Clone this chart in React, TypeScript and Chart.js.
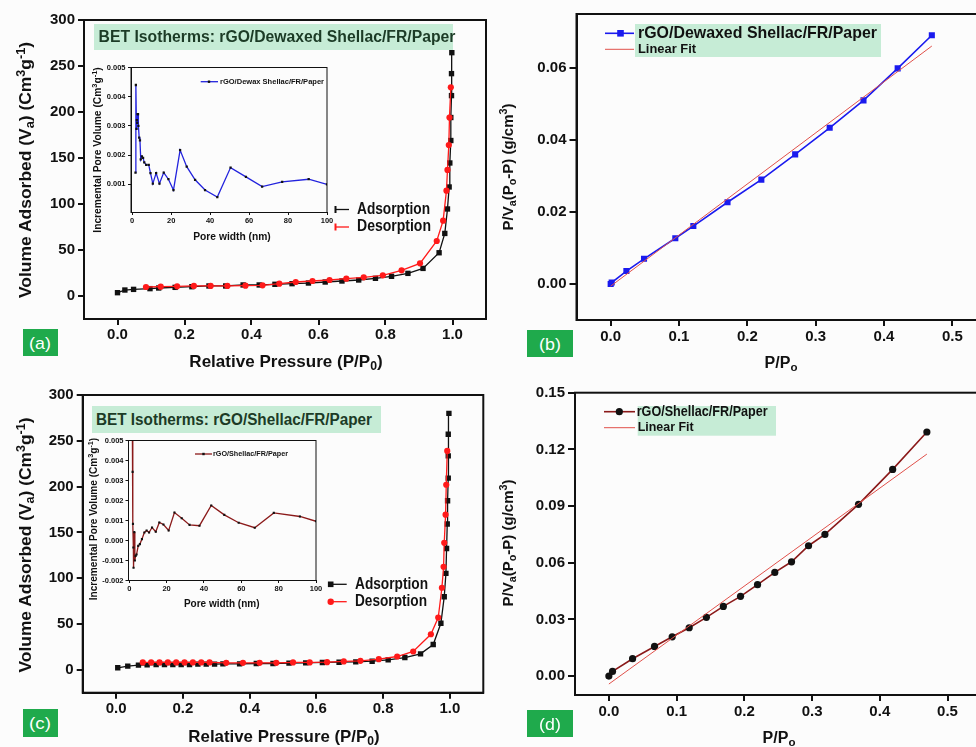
import React, { useEffect, useLayoutEffect, useRef } from 'react';
import { Chart, registerables } from 'chart.js';
Chart.register(...registerables);

const FONT = '"Liberation Sans", Arial, Helvetica, sans-serif';

// ---------- (a) rGO/Dewaxed Shellac/FR/Paper isotherm ----------
const aAdsX = [0.0, 0.022, 0.048, 0.097, 0.123, 0.172, 0.222, 0.273, 0.323, 0.375, 0.423, 0.47, 0.521, 0.57, 0.62, 0.67, 0.72, 0.77, 0.818, 0.867, 0.912, 0.96, 0.977, 0.985, 0.99, 0.992, 0.995, 0.995, 0.997, 0.997, 0.998];
const aAdsY = [3.6, 6.5, 7.2, 8.0, 8.7, 9.4, 10.1, 10.9, 10.9, 12.0, 12.0, 12.7, 13.4, 14.1, 15.2, 16.3, 17.4, 19.2, 21.4, 24.6, 30.0, 47.0, 68.0, 94.6, 118.5, 144.6, 169.0, 194.0, 217.8, 241.7, 264.5];
const aDesX = [0.085, 0.129, 0.178, 0.228, 0.278, 0.328, 0.382, 0.433, 0.483, 0.532, 0.582, 0.633, 0.683, 0.735, 0.792, 0.848, 0.903, 0.953, 0.972, 0.982, 0.985, 0.989, 0.991, 0.995];
const aDesY = [9.8, 10.1, 10.5, 10.9, 10.9, 10.9, 11.2, 11.6, 13.4, 15.2, 16.3, 17.4, 18.8, 20.3, 22.5, 27.9, 35.5, 59.8, 81.9, 114.5, 137.0, 164.0, 194.0, 226.8];

// inset (a): pore size distribution
const aPoreX = [1.7, 1.9, 2.2, 2.4, 2.6, 2.8, 3.0, 3.2, 3.6, 4.0, 4.4, 5.0, 5.6, 6.2, 7.2, 8.5, 9.4, 10.6, 12.3, 14.0, 16.2, 18.6, 21.2, 24.6, 28.0, 32.3, 37.4, 43.7, 50.5, 58.4, 66.7, 77.0, 90.6, 100];
const aPoreY = [0.0014, 0.0044, 0.0029, 0.0032, 0.0031, 0.0034, 0.0034, 0.003, 0.0026, 0.0025, 0.00185, 0.00195, 0.0019, 0.00175, 0.00166, 0.00166, 0.00138, 0.00102, 0.00138, 0.00102, 0.0014, 0.00117, 0.0008, 0.00217, 0.0016, 0.00115, 0.0008, 0.00056, 0.00157, 0.00125, 0.00092, 0.00108, 0.00117, 0.00099];

// ---------- (b) BET plot rGO/Dewaxed Shellac ----------
const bX = [0, 0.0015, 0.023, 0.0488, 0.0946, 0.121, 0.171, 0.2205, 0.27, 0.3205, 0.37, 0.42, 0.47];
const bY = [0, 0.0004, 0.0036, 0.007, 0.0127, 0.0161, 0.0227, 0.029, 0.036, 0.0434, 0.051, 0.0599, 0.0691];
const bFitX = [0, 0.47];
const bFitY = [-0.0006, 0.0661];

// ---------- (c) rGO/Shellac/FR/Paper isotherm ----------
const cAdsX = [0.005, 0.035, 0.067, 0.093, 0.12, 0.145, 0.17, 0.195, 0.22, 0.245, 0.27, 0.295, 0.32, 0.37, 0.42, 0.47, 0.518, 0.568, 0.618, 0.668, 0.718, 0.767, 0.815, 0.865, 0.912, 0.95, 0.973, 0.983, 0.988, 0.99, 0.992, 0.993, 0.995, 0.995, 0.995, 0.997];
const cAdsY = [2.2, 4.0, 5.1, 5.4, 5.8, 5.8, 5.8, 5.8, 5.8, 6.2, 6.2, 6.2, 6.5, 6.5, 6.9, 6.9, 7.3, 7.6, 8.0, 8.3, 8.7, 9.4, 10.9, 13.4, 17.4, 27.6, 50.8, 79.8, 105.2, 132.4, 159.2, 184.6, 209.3, 233.6, 257.2, 280.0];
const cDesX = [0.08, 0.105, 0.13, 0.155, 0.18, 0.205, 0.23, 0.255, 0.28, 0.33, 0.38, 0.43, 0.48, 0.53, 0.58, 0.632, 0.682, 0.732, 0.787, 0.842, 0.89, 0.943, 0.965, 0.976, 0.981, 0.983, 0.987, 0.989, 0.992];
const cDesY = [8.0, 8.0, 8.0, 8.0, 8.0, 8.0, 8.0, 8.0, 8.0, 7.6, 7.6, 7.6, 7.6, 8.0, 8.0, 8.3, 9.1, 9.8, 11.6, 14.5, 20.0, 38.8, 57.0, 89.6, 112.4, 138.6, 169.4, 202.0, 239.0];

// inset (c): pore size distribution
const cPoreX = [1.5, 1.8, 2.0, 2.2, 2.3, 2.7, 3.0, 3.4, 3.9, 4.8, 5.7, 6.8, 8.1, 9.3, 10.6, 12.2, 14.2, 16.1, 18.3, 21.1, 24.2, 28.1, 32.3, 37.6, 43.9, 50.9, 58.6, 67.2, 77.4, 91.4, 100];
const cPoreY = [0.009, 0.00343, 0.00083, -0.00035, -0.00136, 0.00042, -0.001, -0.00077, -0.0007, -0.00027, -0.00018, 0.00007, 0.0004, 0.0005, 0.0004, 0.00065, 0.00044, 0.0009, 0.0008, 0.0005, 0.0014, 0.00111, 0.00078, 0.00074, 0.00175, 0.00128, 0.00089, 0.00064, 0.00138, 0.0012, 0.00096];

// ---------- (d) BET plot rGO/Shellac ----------
const dX = [0, 0.0054, 0.035, 0.0674, 0.0935, 0.1186, 0.144, 0.169, 0.1944, 0.2195, 0.245, 0.2697, 0.2948, 0.319, 0.3686, 0.419, 0.4695];
const dY = [0, 0.0025, 0.0092, 0.0157, 0.0208, 0.0256, 0.0311, 0.0369, 0.0422, 0.0484, 0.0549, 0.0605, 0.069, 0.075, 0.0909, 0.1094, 0.1292];
const dFitX = [0, 0.4695];
const dFitY = [-0.0042, 0.1175];

// tick values
const isoXTicks = [0, 0.2, 0.4, 0.6, 0.8, 1.0];
const isoYTicks = [0, 50, 100, 150, 200, 250, 300];
const betXTicks = [0, 0.1, 0.2, 0.3, 0.4, 0.5];
const bYTicks = [0, 0.02, 0.04, 0.06];
const dYTicks = [0, 0.03, 0.06, 0.09, 0.12, 0.15];
const poreXTicks = [0, 20, 40, 60, 80, 100];
const aPoreYTicks = [0.001, 0.002, 0.003, 0.004, 0.005];
const cPoreYTicks = [-0.002, -0.001, 0, 0.001, 0.002, 0.003, 0.004, 0.005];

const zip = (xs: number[], ys: number[]) => xs.map((x, i) => ({ x, y: ys[i] }));

type Box = { l: number; t: number; r: number; b: number };
type AxisSpec = { min: number; max: number; ticks: number[]; fmt: (v: number) => string; fs: number; tl: number; pad: number };

const framePlugin = {
  id: 'frame',
  afterDraw(chart: any, _a: any, o: any) {
    const { ctx, chartArea } = chart;
    const { left, top, right, bottom } = chartArea;
    ctx.save();
    ctx.strokeStyle = '#111';
    ctx.lineWidth = o.width || 2;
    ctx.strokeRect(left, top, right - left, bottom - top);
    ctx.restore();
  },
};

const legendPlugin = {
  id: 'leg',
  afterDraw(chart: any, _a: any, o: any) {
    if (!o || !o.items) return;
    const ctx = chart.ctx;
    const ox = o.ox, oy = o.oy;
    ctx.save();
    if (o.bg) {
      ctx.fillStyle = o.bg.color;
      ctx.fillRect(o.bg.x - ox, o.bg.y - oy, o.bg.w, o.bg.h);
    }
    for (const it of o.items) {
      const y = it.ty - oy;
      if (it.line) {
        ctx.strokeStyle = it.line.color;
        ctx.lineWidth = it.line.w;
        ctx.beginPath();
        ctx.moveTo(it.line.x1 - ox, y);
        ctx.lineTo(it.line.x2 - ox, y);
        ctx.stroke();
      }
      if (it.marker) {
        const m = it.marker;
        const mx = m.x - ox;
        ctx.fillStyle = m.color;
        if (m.style === 'rect') {
          ctx.fillRect(mx - m.r, y - m.r, 2 * m.r, 2 * m.r);
        } else if (m.style === 'circle') {
          ctx.beginPath();
          ctx.arc(mx, y, m.r, 0, Math.PI * 2);
          ctx.fill();
        } else if (m.style === 'bar') {
          ctx.fillRect(mx - 1, y - m.r, 2, 2 * m.r);
        }
      }
      ctx.font = `bold ${it.size}px ${FONT}`;
      ctx.fillStyle = it.color || '#111';
      ctx.textBaseline = 'middle';
      ctx.textAlign = 'left';
      const w = ctx.measureText(it.text).width;
      const sx = it.width ? Math.max(0.75, Math.min(1.2, it.width / w)) : 1;
      ctx.save();
      ctx.translate(it.tx - ox, y);
      ctx.scale(sx, 1);
      ctx.fillText(it.text, 0, 0);
      ctx.restore();
    }
    ctx.restore();
  },
};

function mkScale(kind: 'x' | 'y', size: number, s: AxisSpec, bw: number) {
  return {
    type: 'linear',
    position: kind === 'x' ? 'bottom' : 'left',
    min: s.min,
    max: s.max,
    afterBuildTicks: (sc: any) => {
      sc.ticks = s.ticks.map((v) => ({ value: v }));
    },
    afterFit: (sc: any) => {
      if (kind === 'x') sc.height = size;
      else sc.width = size;
    },
    ticks: {
      callback: (v: number) => s.fmt(v),
      font: { family: FONT, size: s.fs, weight: 'bold' },
      color: '#111',
      padding: s.pad,
      autoSkip: false,
      maxRotation: 0,
      minRotation: 0,
    },
    grid: {
      display: true,
      drawOnChartArea: false,
      drawTicks: true,
      tickLength: s.tl,
      tickWidth: bw,
      tickColor: '#111',
      color: '#111',
      lineWidth: bw,
    },
    border: { display: true, color: '#111', width: bw },
  };
}

type PanelProps = {
  left: number; top: number; width: number; height: number; area: Box;
  datasets: any[]; xs: AxisSpec; ys: AxisSpec; frameW: number; legend?: any;
};

function Panel(p: PanelProps) {
  const ref = useRef<HTMLCanvasElement>(null);
  useEffect(() => {
    const cfg: any = {
      type: 'scatter',
      data: { datasets: p.datasets },
      options: {
        responsive: false,
        animation: false,
        devicePixelRatio: 1,
        events: [],
        layout: { padding: { left: 0, top: p.area.t - p.top, right: p.left + p.width - p.area.r, bottom: 0 } },
        plugins: {
          legend: { display: false },
          tooltip: { enabled: false },
          frame: { width: p.frameW },
          leg: p.legend ? { ...p.legend, ox: p.left, oy: p.top } : {},
        },
        scales: {
          x: mkScale('x', p.top + p.height - p.area.b, p.xs, p.frameW),
          y: mkScale('y', p.area.l - p.left, p.ys, p.frameW),
        },
      },
      plugins: [framePlugin, legendPlugin],
    };
    const c = new Chart(ref.current as HTMLCanvasElement, cfg);
    return () => c.destroy();
  }, []);
  return (
    <canvas
      ref={ref}
      width={p.width}
      height={p.height}
      style={{ position: 'absolute', left: p.left, top: p.top, width: p.width, height: p.height }}
    />
  );
}

function Txt({ x, y, w, size, rot = false, color = '#111', weight = 700, children }: any) {
  const ref = useRef<HTMLDivElement>(null);
  const base = `translate(-50%,-50%)${rot ? ' rotate(-90deg)' : ''}`;
  useLayoutEffect(() => {
    const el = ref.current as HTMLDivElement;
    const nat = el.offsetWidth;
    const k = w && nat ? Math.max(0.75, Math.min(1.25, w / nat)) : 1;
    el.style.transform = `${base} scaleX(${k})`;
  }, []);
  return (
    <div
      ref={ref}
      style={{
        position: 'absolute', left: x, top: y, whiteSpace: 'nowrap', fontSize: size,
        fontWeight: weight, color, lineHeight: 1, fontFamily: FONT, transform: base,
      }}
    >
      {children}
    </div>
  );
}

const SUB: any = { fontSize: '0.72em', verticalAlign: '-0.3em', lineHeight: 0 };
const SUP: any = { fontSize: '0.72em', verticalAlign: '0.5em', lineHeight: 0 };

const f1 = (v: number) => v.toFixed(1);
const f2 = (v: number) => v.toFixed(2);
const f3 = (v: number) => v.toFixed(3);
const f0 = (v: number) => String(Math.round(v));

const BLACK = '#111111';
const RED = '#ff1a1a';
const BLUE = '#1a1aee';
const DARKRED = '#8b1a1a';
const FITRED = '#e0504a';
const MINT = '#c6ecd6';
const LABELGREEN = '#1faa4c';

function Label({ x, y, w, h, cx, cy, text }: any) {
  return (
    <>
      <div style={{ position: 'absolute', left: x, top: y, width: w, height: h, background: LABELGREEN }} />
      <Txt x={cx} y={cy} size={17} weight={400} color="#ffffff" w={22}>{text}</Txt>
    </>
  );
}

export default function App() {
  const isoDatasets = (adsX: number[], adsY: number[], desX: number[], desY: number[]) => [
    {
      data: zip(desX, desY), showLine: true, borderColor: RED, borderWidth: 1.3,
      pointStyle: 'circle', pointRadius: 3.1, pointBackgroundColor: RED, pointBorderColor: RED, pointBorderWidth: 0,
    },
    {
      data: zip(adsX, adsY), showLine: true, borderColor: BLACK, borderWidth: 1.3,
      pointStyle: 'rect', pointRadius: 3.8, pointBackgroundColor: BLACK, pointBorderColor: BLACK, pointBorderWidth: 0,
    },
  ];
  const isoX: AxisSpec = { min: -0.1, max: 1.1, ticks: isoXTicks, fmt: f1, fs: 15, tl: 6, pad: 1 };
  const isoY: AxisSpec = { min: -25, max: 300, ticks: isoYTicks, fmt: f0, fs: 15, tl: 6, pad: 3 };

  return (
    <div style={{ position: 'fixed', left: 0, top: 0, width: 976, height: 747, overflow: 'hidden', background: '#fcfcfc', fontFamily: FONT }}>
      {/* (a) */}
      <Panel
        left={0} top={0} width={490} height={370}
        area={{ l: 84, t: 20, r: 486, b: 319 }}
        datasets={isoDatasets(aAdsX, aAdsY, aDesX, aDesY)}
        xs={isoX} ys={isoY} frameW={2}
        legend={{
          items: [
            { text: 'Adsorption', tx: 357, ty: 209.5, size: 16, width: 73, line: { x1: 335, x2: 349, color: BLACK, w: 1.3 }, marker: { x: 335.5, style: 'bar', r: 3.5, color: BLACK } },
            { text: 'Desorption', tx: 357, ty: 227, size: 16, width: 74, line: { x1: 335, x2: 349, color: RED, w: 1.3 }, marker: { x: 335.5, style: 'bar', r: 3.5, color: RED } },
          ],
        }}
      />
      {/* (b) */}
      <Panel
        left={490} top={0} width={510} height={370}
        area={{ l: 576.5, t: 14, r: 986.5, b: 320 }}
        datasets={[
          { data: zip(bFitX, bFitY), showLine: true, borderColor: FITRED, borderWidth: 1, pointRadius: 0 },
          {
            data: zip(bX, bY), showLine: true, borderColor: BLUE, borderWidth: 1.6,
            pointStyle: 'rect', pointRadius: 4.3, pointBackgroundColor: BLUE, pointBorderColor: BLUE, pointBorderWidth: 0,
          },
        ]}
        xs={{ min: -0.05, max: 0.55, ticks: betXTicks, fmt: f1, fs: 15, tl: 6, pad: 2 }}
        ys={{ min: -0.01, max: 0.075, ticks: bYTicks, fmt: f2, fs: 15, tl: 7, pad: 3 }}
        frameW={2}
        legend={{
          bg: { x: 635, y: 24, w: 246, h: 33, color: MINT },
          items: [
            { text: 'rGO/Dewaxed Shellac/FR/Paper', tx: 638, ty: 33.3, size: 16.5, width: 239, line: { x1: 605, x2: 634, color: BLUE, w: 1.6 }, marker: { x: 620.5, style: 'rect', r: 3.3, color: BLUE } },
            { text: 'Linear Fit', tx: 638, ty: 49.3, size: 13.5, width: 58, line: { x1: 605, x2: 634, color: FITRED, w: 1 } },
          ],
        }}
      />
      {/* (c) */}
      <Panel
        left={0} top={370} width={490} height={377}
        area={{ l: 82.7, t: 395, r: 483.3, b: 692.7 }}
        datasets={isoDatasets(cAdsX, cAdsY, cDesX, cDesY)}
        xs={isoX} ys={isoY} frameW={2}
        legend={{
          items: [
            { text: 'Adsorption', tx: 355, ty: 584.3, size: 16, width: 73, line: { x1: 330.7, x2: 346.7, color: BLACK, w: 1.3 }, marker: { x: 330.7, style: 'rect', r: 2.8, color: BLACK } },
            { text: 'Desorption', tx: 355, ty: 601.7, size: 16, width: 72, line: { x1: 330.7, x2: 346.7, color: RED, w: 1.3 }, marker: { x: 330.7, style: 'circle', r: 3.2, color: RED } },
          ],
        }}
      />
      {/* (d) */}
      <Panel
        left={490} top={370} width={510} height={377}
        area={{ l: 575, t: 392.7, r: 981.4, b: 695 }}
        datasets={[
          { data: zip(dFitX, dFitY), showLine: true, borderColor: FITRED, borderWidth: 1, pointRadius: 0 },
          {
            data: zip(dX, dY), showLine: true, borderColor: DARKRED, borderWidth: 1.6,
            pointStyle: 'circle', pointRadius: 3.6, pointBackgroundColor: BLACK, pointBorderColor: BLACK, pointBorderWidth: 0,
          },
        ]}
        xs={{ min: -0.05, max: 0.55, ticks: betXTicks, fmt: f1, fs: 15, tl: 6, pad: 2 }}
        ys={{ min: -0.01, max: 0.15, ticks: dYTicks, fmt: f2, fs: 15, tl: 7, pad: 3 }}
        frameW={2}
        legend={{
          bg: { x: 637.7, y: 406, w: 138.3, h: 29.7, color: MINT },
          items: [
            { text: 'rGO/Shellac/FR/Paper', tx: 636.7, ty: 411.7, size: 15, width: 131, line: { x1: 604, x2: 635, color: DARKRED, w: 1.6 }, marker: { x: 619.3, style: 'circle', r: 3.6, color: BLACK } },
            { text: 'Linear Fit', tx: 637.7, ty: 427.7, size: 13.5, width: 56, line: { x1: 604, x2: 635, color: FITRED, w: 1 } },
          ],
        }}
      />
      {/* inset (a) */}
      <Panel
        left={100} top={55} width={240} height={175}
        area={{ l: 131, t: 67.5, r: 327, b: 212.5 }}
        datasets={[
          {
            data: zip(aPoreX, aPoreY), showLine: true, borderColor: '#2222dd', borderWidth: 1.3, clip: 0,
            pointStyle: 'rect', pointRadius: 1.6, pointBackgroundColor: BLACK, pointBorderColor: BLACK, pointBorderWidth: 0,
          },
        ]}
        xs={{ min: -0.6, max: 100, ticks: poreXTicks, fmt: f0, fs: 7.5, tl: 2.5, pad: 1.5 }}
        ys={{ min: 0.00003, max: 0.005, ticks: aPoreYTicks, fmt: f3, fs: 7.5, tl: 3, pad: 2.5 }}
        frameW={1}
        legend={{
          items: [
            { text: 'rGO/Dewax Shellac/FR/Paper', tx: 220, ty: 81.7, size: 7.5, width: 104, line: { x1: 200.7, x2: 218, color: '#2222dd', w: 1.3 }, marker: { x: 209, style: 'rect', r: 1.2, color: BLACK } },
          ],
        }}
      />
      {/* inset (c) */}
      <Panel
        left={96} top={428} width={235} height={170}
        area={{ l: 128.5, t: 440.5, r: 316, b: 580.5 }}
        datasets={[
          {
            data: zip(cPoreX, cPoreY), showLine: true, borderColor: DARKRED, borderWidth: 1.3, clip: 0,
            pointStyle: 'rect', pointRadius: 1.5, pointBackgroundColor: BLACK, pointBorderColor: BLACK, pointBorderWidth: 0,
          },
        ]}
        xs={{ min: -0.4, max: 100, ticks: poreXTicks, fmt: f0, fs: 7.5, tl: 2.5, pad: 1.5 }}
        ys={{ min: -0.002, max: 0.005, ticks: cPoreYTicks, fmt: f3, fs: 7.5, tl: 3, pad: 2 }}
        frameW={1}
        legend={{
          items: [
            { text: 'rGO/Shellac/FR/Paper', tx: 213, ty: 454, size: 7.5, width: 75, line: { x1: 195, x2: 212, color: DARKRED, w: 1.3 }, marker: { x: 203.5, style: 'rect', r: 1.2, color: BLACK } },
          ],
        }}
      />

      {/* title boxes */}
      <div style={{ position: 'absolute', left: 94, top: 24, width: 359, height: 26, background: MINT }} />
      <Txt x={276.5} y={37} size={16} w={357} color="#1c3b26">BET Isotherms: rGO/Dewaxed Shellac/FR/Paper</Txt>
      <div style={{ position: 'absolute', left: 92, top: 406, width: 289, height: 27, background: MINT }} />
      <Txt x={234} y={419.5} size={16} w={276} color="#1c3b26">BET Isotherms: rGO/Shellac/FR/Paper</Txt>

      {/* axis titles (a) */}
      <Txt x={25} y={170} size={16.5} w={256} rot>
        Volume Adsorbed (V<span style={SUB}>a</span>) (Cm<span style={SUP}>3</span>g<span style={SUP}>-1</span>)
      </Txt>
      <Txt x={285.5} y={361} size={16.5} w={193}>
        Relative Pressure (P/P<span style={SUB}>0</span>)
      </Txt>
      {/* (c) */}
      <Txt x={25} y={545} size={16.5} w={255} rot>
        Volume Adsorbed (V<span style={SUB}>a</span>) (Cm<span style={SUP}>3</span>g<span style={SUP}>-1</span>)
      </Txt>
      <Txt x={283.5} y={736} size={16.5} w={191}>
        Relative Pressure (P/P<span style={SUB}>0</span>)
      </Txt>
      {/* (b) */}
      <Txt x={506.7} y={167} size={15} w={127} rot>
        P/V<span style={SUB}>a</span>(P<span style={SUB}>o</span>-P) (g/cm<span style={SUP}>3</span>)
      </Txt>
      <Txt x={781} y={363} size={16}>
        P/P<span style={SUB}>o</span>
      </Txt>
      {/* (d) */}
      <Txt x={506.7} y={543} size={15} w={127} rot>
        P/V<span style={SUB}>a</span>(P<span style={SUB}>o</span>-P) (g/cm<span style={SUP}>3</span>)
      </Txt>
      <Txt x={779} y={738} size={16}>
        P/P<span style={SUB}>o</span>
      </Txt>
      {/* inset titles */}
      <Txt x={98} y={150} size={10} w={165} rot>
        Incremental Pore Volume (Cm<span style={SUP}>3</span>g<span style={SUP}>-1</span>)
      </Txt>
      <Txt x={232} y={237} size={10} w={78}>Pore width (nm)</Txt>
      <Txt x={94} y={519} size={10} w={162} rot>
        Incremental Pore Volume (Cm<span style={SUP}>3</span>g<span style={SUP}>-1</span>)
      </Txt>
      <Txt x={221.7} y={604} size={10} w={76}>Pore width (nm)</Txt>

      {/* panel labels */}
      <Label x={23} y={329} w={35} h={27} cx={40} cy={342.5} text="(a)" />
      <Label x={527} y={330} w={46} h={27} cx={550} cy={343.5} text="(b)" />
      <Label x={23} y={709} w={35} h={28} cx={40} cy={723} text="(c)" />
      <Label x={527} y={710} w={46} h={27} cx={550} cy={723.5} text="(d)" />
    </div>
  );
}
